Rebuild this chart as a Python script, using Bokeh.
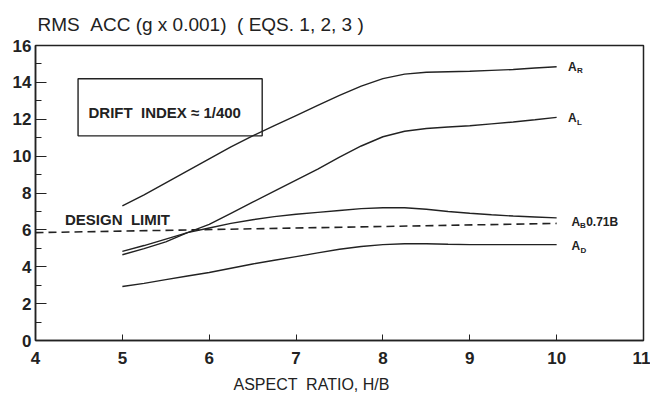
from bokeh.plotting import figure
from bokeh.models import FixedTicker, Label, Title
from bokeh.embed import file_html
from bokeh.resources import INLINE

# ---- data ----
aspect = [5, 5.25, 5.5, 5.75, 6, 6.25, 6.5, 6.75, 7, 7.25, 7.5,
          7.75, 8, 8.25, 8.5, 8.75, 9, 9.25, 9.5, 9.75, 10]
a_r = [7.3, 7.9, 8.55, 9.2, 9.85, 10.5, 11.1, 11.65, 12.2, 12.75, 13.3,
       13.8, 14.2, 14.45, 14.55, 14.58, 14.6, 14.65, 14.7, 14.78, 14.85]
a_l = [4.65, 4.98, 5.35, 5.85, 6.3, 6.9, 7.5, 8.1, 8.7, 9.3, 9.95,
       10.55, 11.05, 11.35, 11.5, 11.58, 11.65, 11.75, 11.85, 11.97, 12.1]
a_b = [4.83, 5.15, 5.5, 5.85, 6.1, 6.35, 6.55, 6.72, 6.85, 6.95, 7.05,
       7.15, 7.2, 7.2, 7.12, 7.0, 6.9, 6.82, 6.75, 6.7, 6.65]
a_d = [2.93, 3.1, 3.3, 3.5, 3.69, 3.92, 4.15, 4.35, 4.55, 4.75, 4.95,
       5.1, 5.2, 5.25, 5.25, 5.22, 5.2, 5.2, 5.2, 5.2, 5.2]
limit_x = [4, 10]
limit_y = [5.85, 6.35]

x_ticks = [4, 5, 6, 7, 8, 9, 10, 11]
y_ticks = [0, 2, 4, 6, 8, 10, 12, 14, 16]
y_minor = [1, 3, 5, 7, 9, 11, 13, 15]

NB = "\u00a0"
title_text = f"RMS {NB}ACC (g x 0.001) {NB}( EQS. 1, 2, 3 )"
xlabel_text = f"ASPECT {NB}RATIO, H/B"
box_text = f"DRIFT {NB}INDEX \u2248 1/400"
limit_text = f"DESIGN {NB}LIMIT"

INK = "#222222"
FONT = "Liberation Sans"

p = figure(width=650, height=403, x_range=(4, 11), y_range=(0, 16),
           output_backend="svg", toolbar_location=None,
           min_border_left=35, min_border_right=7,
           min_border_top=45, min_border_bottom=63)
p.xgrid.visible = False
p.ygrid.visible = False
p.outline_line_color = INK
p.outline_line_width = 1.5
p.background_fill_color = "white"
p.border_fill_color = "white"

p.title.text = title_text
p.title.align = "left"
p.title.offset = 2
p.title.text_font = FONT
p.title.text_font_size = "19px"
p.title.text_font_style = "normal"
p.title.text_color = INK
p.title.standoff = 22

for ax in (p.xaxis[0], p.yaxis[0]):
    ax.axis_line_color = INK
    ax.axis_line_width = 1.5
    ax.major_tick_line_color = INK
    ax.minor_tick_line_color = INK
    ax.major_tick_out = 0
    ax.minor_tick_out = 0
    ax.major_label_text_font = FONT
    ax.major_label_text_font_style = "bold"
    ax.major_label_text_font_size = "17px"
    ax.major_label_text_color = INK

p.xaxis.ticker = FixedTicker(ticks=x_ticks)
p.xaxis.major_tick_in = 6
p.xaxis.major_label_standoff = 11
p.yaxis.ticker = FixedTicker(ticks=y_ticks, minor_ticks=y_minor)
p.yaxis.major_tick_in = 11
p.yaxis.minor_tick_in = 6
p.yaxis.major_label_standoff = 4

p.add_layout(Title(text=xlabel_text, align="left", offset=198,
                   text_font=FONT, text_font_size="16px",
                   text_font_style="normal", text_color=INK,
                   standoff=15), "below")

# curves
for ys in (a_r, a_l, a_b, a_d):
    p.line(aspect, ys, line_color=INK, line_width=1.4)
p.line(limit_x, limit_y, line_color=INK, line_width=1.6, line_dash="8 5")

# drift index box
p.quad(left=[4.49], right=[6.61], bottom=[11.1], top=[14.2],
       fill_color=None, line_color=INK, line_width=1.4)

def lab(x, y, text, size, bold=True, align="left", baseline="middle"):
    p.add_layout(Label(x=x, y=y, text=text, text_font=FONT,
                       text_font_size=size,
                       text_font_style="bold" if bold else "normal",
                       text_color=INK, text_align=align,
                       text_baseline=baseline))

lab(4.61, 12.35, box_text, "15px")
lab(4.34, 6.55, limit_text, "15px")

# curve labels (A with subscripts)
lab(10.13, 14.85, "A", "12px")
lab(10.235, 14.62, "R", "8px")
lab(10.13, 12.05, "A", "12px")
lab(10.235, 11.82, "L", "8px")
lab(10.17, 6.45, "A", "12px")
lab(10.27, 6.22, "B", "8px")
lab(10.34, 6.45, "0.71B", "12px")
lab(10.17, 5.1, "A", "12px")
lab(10.275, 4.87, "D", "8px")

open("out.html", "w").write(file_html(p, INLINE))
